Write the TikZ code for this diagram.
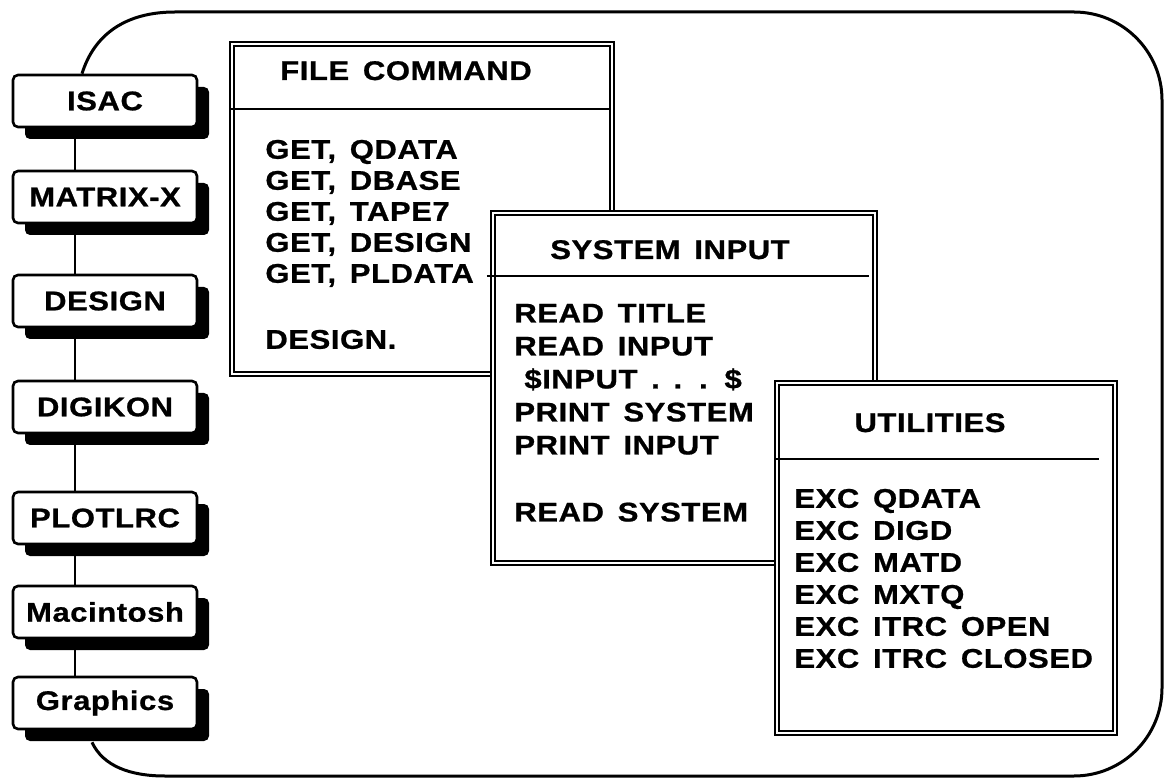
\documentclass[tikz,border=0pt]{standalone}
\usepackage{fontspec}
\newfontfamily\heavy{Liberation Sans Bold}[FakeStretch=1.15,LetterSpace=2,WordSpace=1.5,FakeBold=0.8]
\usetikzlibrary{shadows,positioning}

\begin{document}
\begin{tikzpicture}[x=0.5pt, y=-0.5pt,
        % program boxes on the left
        prog/.style={
            draw, line width=1.3pt, rounded corners=2.5pt, fill=white,
            minimum width=92pt, minimum height=26pt,
            font=\fontsize{13.5}{15.5}\heavy,
            drop shadow={shadow xshift=6pt, shadow yshift=-6pt, fill=black, opacity=1}
        },
        % overlapping windows
        win/.style={draw, double, double distance=1pt, line width=1.1pt, fill=white},
        wintitle/.style={anchor=base, inner sep=0pt, font=\fontsize{13.5}{15.5}\heavy},
        wintext/.style={anchor=north west, align=left, inner sep=0pt,
            font=\fontsize{13.5}{#1}\heavy},
        wintext/.default=15.5pt,
        rule/.style={line width=1pt},
        link/.style={line width=1.2pt},
        frame/.style={line width=1.5pt}
    ]
    \useasboundingbox (0,0) rectangle (1167,780);

    % ---- program boxes ----
    \node[prog] (isac)     at (105,101) {ISAC};
    \node[prog] (matrix)   at (105,197) {MATRIX-X};
    \node[prog] (design)   at (105,301) {DESIGN};
    \node[prog] (digikon)  at (105,407) {DIGIKON};
    \node[prog] (plotlrc)  at (105,518) {PLOTLRC};
    \node[prog] (mac)      at (105,612) {Macintosh};
    \node[prog] (graphics) at (105,703) {Graphics};

    % ---- outer frame ----
    \draw[frame] ([xshift=-11.5pt]isac.north) .. controls (94,35) and (125,12) .. (175,12)
        -- (1074,12) .. controls (1122.6,12) and (1162,51.4) .. (1162,100)
        -- (1162,688) .. controls (1162,736.6) and (1122.6,776) .. (1074,776)
        -- (165,776) .. controls (130,776) and (103,766) .. ([xshift=-6.5pt,yshift=-6pt]graphics.south);

    % ---- windows ----
    \node[win, minimum width=190pt, minimum height=165pt] (filecmd) at (422,209) {};
    \draw[rule] ([yshift=-33pt]filecmd.north west) -- ([yshift=-33pt,xshift=-2pt]filecmd.north east);
    \node[wintitle] (filecmdtitle) at (406,80) {FILE COMMAND};
    \node[wintext] (filecmdtext) at (265,139.5)
        {GET, QDATA\\GET, DBASE\\GET, TAPE7\\GET, DESIGN\\GET, PLDATA\\[17.5pt]DESIGN.};

    \node[win, minimum width=191pt, minimum height=175pt] (sysin) at (684,388) {};
    \draw[rule] ([yshift=-32pt,xshift=-2.5pt]sysin.north west) -- ([yshift=-32pt,xshift=-3.5pt]sysin.north east);
    \node[wintitle] (sysintitle) at (670,259) {SYSTEM INPUT};
    \node[wintext=16.5pt] (sysintext) at (514,303.5)
        {READ TITLE\\READ INPUT\\\hspace*{5pt}\$INPUT . . . \$\\PRINT SYSTEM\\PRINT INPUT\\[17pt]READ SYSTEM};

    \node[win, minimum width=169pt, minimum height=175pt] (util) at (946,558) {};
    \draw[rule] ([yshift=-38.5pt]util.north west) -- ([yshift=-38.5pt,xshift=-8.5pt]util.north east);
    \node[wintitle] (utiltitle) at (930,432) {UTILITIES};
    \node[wintext=16pt] (utiltext) at (794,488.5)
        {EXC QDATA\\EXC DIGD\\EXC MATD\\EXC MXTQ\\EXC ITRC OPEN\\EXC ITRC CLOSED};

    % ---- links between program boxes ----
    \foreach \a/\b in {isac/matrix, matrix/design, design/digikon, digikon/plotlrc,
                       plotlrc/mac, mac/graphics}
        \draw[link] ([xshift=-15pt]\a.south) -- ([xshift=-15pt]\b.north);

\end{tikzpicture}
\end{document}
